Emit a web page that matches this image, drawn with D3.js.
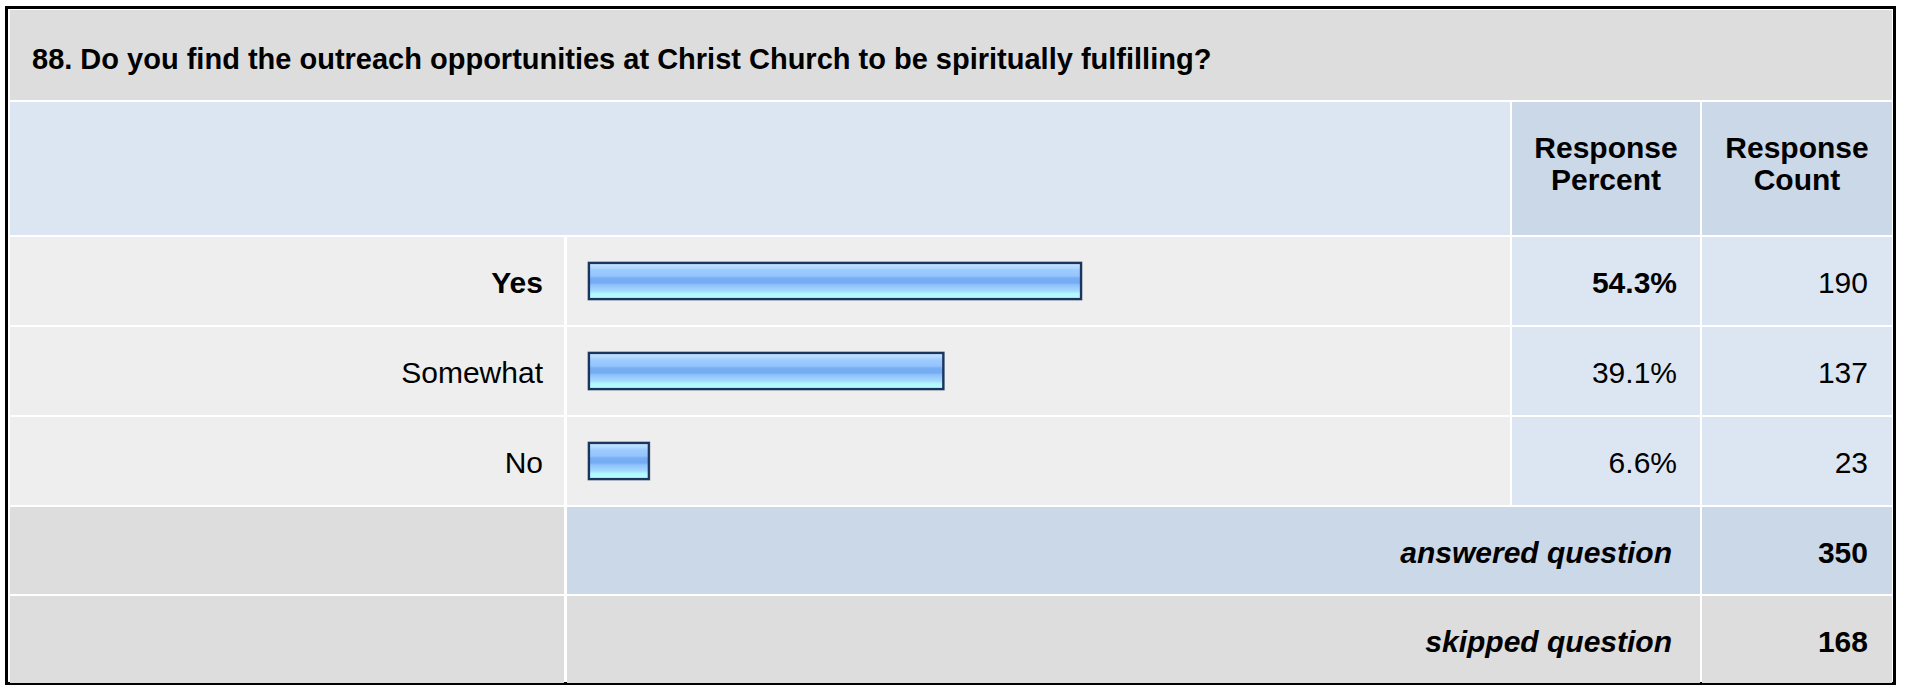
<!DOCTYPE html>
<html>
<head>
<meta charset="utf-8">
<script src="https://cdn.jsdelivr.net/npm/d3@7"></script>
<style>
  html, body { margin: 0; padding: 0; background: #ffffff; }
  svg { display: block; }
  text { font-family: Arial, "Liberation Sans", sans-serif; fill: #000; }
</style>
</head>
<body>
<svg id="chart" width="1907" height="687"></svg>
<script>
// ---- data ----
const title = "88. Do you find the outreach opportunities at Christ Church to be spiritually fulfilling?";
const categories = ["Yes", "Somewhat", "No"];
const percents = [54.3, 39.1, 6.6];
const counts = [190, 137, 23];
const headerPercent = ["Response", "Percent"];
const headerCount = ["Response", "Count"];
const summaryLabels = ["answered question", "skipped question"];
const summaryValues = [350, 168];

// ---- layout ----
const svg = d3.select("#chart");

const colLabel = [10, 564];
const colBar = [567, 1510];
const colPct = [1512, 1700];
const colCnt = [1702, 1892];

const C = {
  gray: "#dddddd",
  rowGray: "#eeeeee",
  lightBlue: "#dce6f3",
  headBlue: "#cbd8e7",
  border: "#000000"
};

// outer border
svg.append("rect")
  .attr("x", 6.5).attr("y", 7.5).attr("width", 1888).attr("height", 676)
  .attr("fill", "#ffffff").attr("stroke", C.border).attr("stroke-width", 3);

function cell(x0, x1, y0, y1, fill) {
  svg.append("rect").attr("x", x0).attr("y", y0)
    .attr("width", x1 - x0).attr("height", y1 - y0).attr("fill", fill);
}

// title row
cell(10, 1892, 10, 100, C.gray);
svg.append("text").attr("x", 32).attr("y", 69)
  .attr("font-size", 29).attr("font-weight", "bold").text(title);

// header row
cell(colLabel[0], colBar[1], 102, 235, C.lightBlue);
cell(colPct[0], colPct[1], 102, 235, C.headBlue);
cell(colCnt[0], colCnt[1], 102, 235, C.headBlue);
[[colPct, headerPercent], [colCnt, headerCount]].forEach(([col, lines]) => {
  svg.append("text")
    .attr("text-anchor", "middle")
    .attr("font-size", 30).attr("font-weight", "bold")
    .selectAll("tspan").data(lines).join("tspan")
    .attr("x", (col[0] + col[1]) / 2)
    .attr("y", (d, i) => 158 + i * 32)
    .text(d => d);
});

// scales
const y = d3.scaleBand().domain(categories).range([236, 506]).paddingInner(0).paddingOuter(0);
const x = d3.scaleLinear().domain([0, 100]).range([589, 1495]);
const maxPct = d3.max(percents);

// gradient for bars
const defs = svg.append("defs");
const grad = defs.append("linearGradient").attr("id", "barGrad")
  .attr("x1", 0).attr("y1", 0).attr("x2", 0).attr("y2", 1);
[
  [0, "#c9e6ff"], [0.12, "#b3d9ff"], [0.2, "#9ccbfe"], [0.36, "#93c4fc"],
  [0.42, "#78aef3"], [0.55, "#74abf2"], [0.6, "#8cc0fa"], [0.7, "#9ccefe"],
  [0.78, "#a3dcff"], [0.85, "#b2f8ff"], [1, "#b6ffff"]
].forEach(([o, c]) => grad.append("stop").attr("offset", o).attr("stop-color", c));

// data rows
const rows = svg.append("g").selectAll("g").data(categories).join("g");
rows.each(function (cat, i) {
  const g = d3.select(this);
  const y0 = y(cat) + 1, y1 = y(cat) + y.bandwidth() - 1;
  const cy = (y0 + y1) / 2;
  const bold = percents[i] === maxPct;
  g.append("rect").attr("x", colLabel[0]).attr("y", y0).attr("width", colLabel[1] - colLabel[0]).attr("height", y1 - y0).attr("fill", C.rowGray);
  g.append("rect").attr("x", colBar[0]).attr("y", y0).attr("width", colBar[1] - colBar[0]).attr("height", y1 - y0).attr("fill", C.rowGray);
  g.append("rect").attr("x", colPct[0]).attr("y", y0).attr("width", colPct[1] - colPct[0]).attr("height", y1 - y0).attr("fill", C.lightBlue);
  g.append("rect").attr("x", colCnt[0]).attr("y", y0).attr("width", colCnt[1] - colCnt[0]).attr("height", y1 - y0).attr("fill", C.lightBlue);

  g.append("text").attr("x", 543).attr("y", cy + 12).attr("text-anchor", "end")
    .attr("font-size", 30).attr("font-weight", bold ? "bold" : "normal").text(cat);

  // bar: faint outer halo + dark navy border
  g.append("rect")
    .attr("x", x(0) - 1).attr("y", cy - 19)
    .attr("width", x(percents[i]) - x(0) + 2).attr("height", 38)
    .attr("fill", "none").attr("stroke", "#8a97ab").attr("stroke-width", 1);
  g.append("rect")
    .attr("x", x(0)).attr("y", cy - 18)
    .attr("width", x(percents[i]) - x(0)).attr("height", 36)
    .attr("fill", "url(#barGrad)")
    .attr("stroke", "#1b355f").attr("stroke-width", 2.2);

  g.append("text").attr("x", 1677).attr("y", cy + 12).attr("text-anchor", "end")
    .attr("font-size", 30).attr("font-weight", bold ? "bold" : "normal")
    .text(d3.format(".1f")(percents[i]) + "%");
  g.append("text").attr("x", 1868).attr("y", cy + 12).attr("text-anchor", "end")
    .attr("font-size", 30).text(counts[i]);
});

// summary rows
const sumTop = [507, 596];
const sumFill = [[C.gray, C.headBlue, C.headBlue], [C.gray, C.gray, C.gray]];
summaryLabels.forEach((lab, i) => {
  const y0 = sumTop[i], y1 = y0 + 87;
  const cy = (y0 + y1) / 2;
  cell(colLabel[0], colLabel[1], y0, y1, sumFill[i][0]);
  cell(colBar[0], colPct[1], y0, y1, sumFill[i][1]);
  cell(colCnt[0], colCnt[1], y0, y1, sumFill[i][2]);
  svg.append("text").attr("x", 1672).attr("y", cy + 12).attr("text-anchor", "end")
    .attr("font-size", 30).attr("font-weight", "bold").attr("font-style", "italic").text(lab);
  svg.append("text").attr("x", 1868).attr("y", cy + 12).attr("text-anchor", "end")
    .attr("font-size", 30).attr("font-weight", "bold").text(summaryValues[i]);
});
</script>
</body>
</html>
